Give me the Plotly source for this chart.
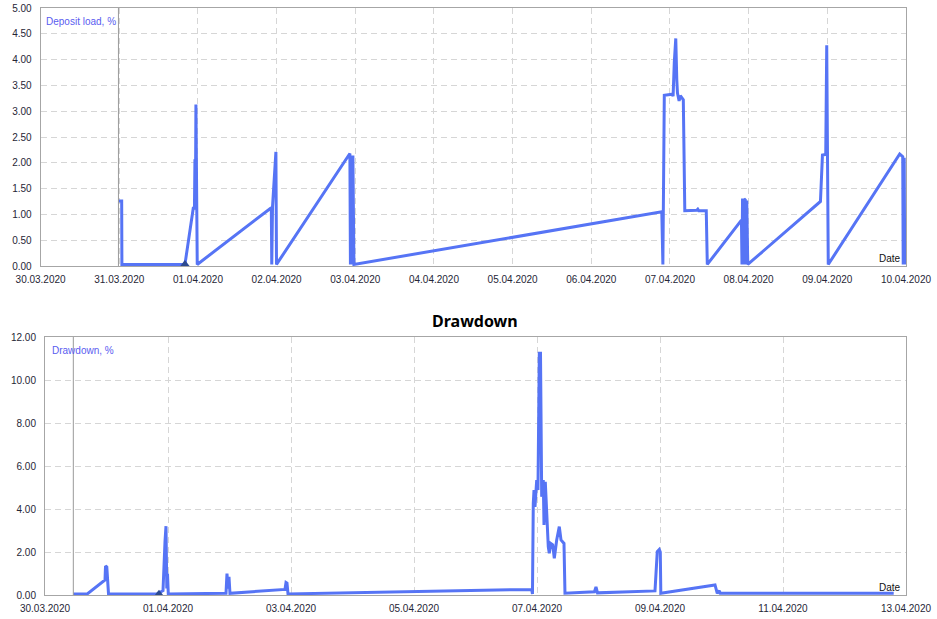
import plotly.graph_objects as go

# ---------------- data ----------------
load_time = [
    "2020-03-30 23:45", "2020-03-31 00:44", "2020-03-31 00:48", "2020-03-31 20:02",
    "2020-03-31 22:34", "2020-03-31 22:56", "2020-03-31 23:05", "2020-03-31 23:14",
    "2020-03-31 23:23", "2020-03-31 23:47", "2020-04-01 22:23", "2020-04-01 22:31",
    "2020-04-01 22:45", "2020-04-01 23:35", "2020-04-01 23:47", "2020-04-01 23:58",
    "2020-04-02 22:08", "2020-04-02 22:21", "2020-04-02 22:31", "2020-04-02 22:49",
    "2020-04-02 23:07", "2020-04-02 23:16", "2020-04-02 23:35", "2020-04-06 21:30",
    "2020-04-06 21:50", "2020-04-06 22:16", "2020-04-07 00:42", "2020-04-07 00:57",
    "2020-04-07 01:19", "2020-04-07 01:46", "2020-04-07 02:05", "2020-04-07 02:17",
    "2020-04-07 02:47", "2020-04-07 03:09", "2020-04-07 04:04", "2020-04-07 04:31",
    "2020-04-07 08:11", "2020-04-07 08:29", "2020-04-07 08:47", "2020-04-07 11:04",
    "2020-04-07 11:23", "2020-04-07 21:48", "2020-04-07 21:58", "2020-04-07 22:08",
    "2020-04-07 22:21", "2020-04-07 22:36", "2020-04-07 22:58", "2020-04-07 23:16",
    "2020-04-07 23:25", "2020-04-07 23:44", "2020-04-08 21:54", "2020-04-08 22:31",
    "2020-04-08 23:31", "2020-04-08 23:49", "2020-04-09 00:17", "2020-04-09 22:05",
    "2020-04-09 23:00", "2020-04-09 23:09", "2020-04-09 23:27", "2020-04-09 23:36",
]
load_value = [
    1.26, 1.26, 0.03, 0.03,
    1.12, 1.12, 2.07, 1.20,
    3.13, 0.03, 1.13, 0.03,
    1.15, 2.21, 2.21, 0.03,
    2.18, 2.18, 0.03, 2.14,
    0.03, 2.14, 0.03, 1.05,
    0.03, 3.31, 3.33, 3.29,
    3.95, 4.41, 3.60, 3.35,
    3.20, 3.30, 3.22, 1.07,
    1.08, 1.10, 1.07, 1.07,
    0.03, 0.89, 0.03, 1.31,
    0.03, 1.30, 1.28, 0.03,
    1.27, 0.03, 1.25, 2.15,
    2.16, 4.28, 0.03, 2.17,
    2.12, 0.03, 2.10, 0.03,
]

dd_time = [
    "2020-03-30 11:03", "2020-03-30 16:30", "2020-03-30 23:25", "2020-03-30 23:37",
    "2020-03-31 00:07", "2020-03-31 00:47", "2020-03-31 19:42", "2020-03-31 20:53",
    "2020-03-31 22:03", "2020-03-31 22:50", "2020-03-31 23:13", "2020-03-31 23:32",
    "2020-03-31 23:48", "2020-04-01 00:07", "2020-04-01 22:38", "2020-04-01 23:01",
    "2020-04-01 23:25", "2020-04-01 23:48", "2020-04-02 00:11", "2020-04-02 21:39",
    "2020-04-02 22:03", "2020-04-02 22:26", "2020-04-02 22:50", "2020-04-06 21:56",
    "2020-04-06 22:14", "2020-04-06 22:33", "2020-04-06 22:50", "2020-04-06 23:13",
    "2020-04-06 23:53", "2020-04-07 00:23", "2020-04-07 00:54", "2020-04-07 01:22",
    "2020-04-07 01:50", "2020-04-07 02:27", "2020-04-07 02:44", "2020-04-07 03:14",
    "2020-04-07 03:47", "2020-04-07 04:24", "2020-04-07 04:48", "2020-04-07 05:21",
    "2020-04-07 06:07", "2020-04-07 06:45", "2020-04-07 07:41", "2020-04-07 08:42",
    "2020-04-07 09:22", "2020-04-07 10:02", "2020-04-07 10:32", "2020-04-07 10:55",
    "2020-04-07 22:26", "2020-04-07 23:01", "2020-04-07 23:37", "2020-04-08 22:03",
    "2020-04-08 22:56", "2020-04-08 23:43", "2020-04-09 00:07", "2020-04-09 00:19",
    "2020-04-09 21:28", "2020-04-09 22:21", "2020-04-09 23:08", "2020-04-09 23:32",
    "2020-04-12 19:12",
]
dd_value = [
    0.05, 0.05, 0.70, 1.35,
    1.30, 0.05, 0.05, 0.12,
    0.20, 2.50, 3.20, 0.30,
    1.00, 0.05, 0.08, 1.00,
    0.30, 0.85, 0.08, 0.26,
    0.58, 0.55, 0.05, 0.26,
    0.05, 4.26, 4.88, 4.10,
    5.35, 4.88, 11.24, 11.24,
    4.57, 5.35, 3.26, 5.27,
    3.80, 2.25, 1.94, 2.40,
    2.33, 1.71, 2.56, 3.18,
    2.56, 2.48, 2.40, 0.08,
    0.15, 0.38, 0.10, 0.19,
    2.02, 2.12, 2.00, 0.08,
    0.47, 0.08, 0.20, 0.08,
    0.08,
]

# small trade markers (dark triangles at the bottom)
load_mark_time = ["2020-03-31 20:02"]
load_mark_value = [0.04]
dd_mark_time = ["2020-03-31 20:29"]
dd_mark_value = [0.06]

load_ticks = ["2020-03-30", "2020-03-31", "2020-04-01", "2020-04-02", "2020-04-03",
              "2020-04-04", "2020-04-05", "2020-04-06", "2020-04-07", "2020-04-08",
              "2020-04-09", "2020-04-10"]
load_tick_text = ["30.03.2020", "31.03.2020", "01.04.2020", "02.04.2020", "03.04.2020",
                  "04.04.2020", "05.04.2020", "06.04.2020", "07.04.2020", "08.04.2020",
                  "09.04.2020", "10.04.2020"]
dd_ticks = ["2020-03-30", "2020-04-01", "2020-04-03", "2020-04-05", "2020-04-07",
            "2020-04-09", "2020-04-11", "2020-04-13"]
dd_tick_text = ["30.03.2020", "01.04.2020", "03.04.2020", "05.04.2020", "07.04.2020",
                "09.04.2020", "11.04.2020", "13.04.2020"]
load_yticks = [0, 0.5, 1, 1.5, 2, 2.5, 3, 3.5, 4, 4.5, 5]
dd_yticks = [0, 2, 4, 6, 8, 10, 12]

# ---------------- style ----------------
W, H = 937, 619
LINE = "#5674F5"
GRID = "#d6d6d6"
FRAME = "#a6a6a6"
TICKC = "#262636"
FONT = "Liberation Sans"

fig = go.Figure()
fig.add_trace(go.Scatter(x=load_time, y=load_value, mode="lines",
                         line=dict(color=LINE, width=3), xaxis="x", yaxis="y",
                         showlegend=False))
fig.add_trace(go.Scatter(x=load_mark_time, y=load_mark_value, mode="markers",
                         marker=dict(symbol="triangle-up", size=8, color="#2c4a90"),
                         xaxis="x", yaxis="y", showlegend=False))
fig.add_trace(go.Scatter(x=dd_time, y=dd_value, mode="lines",
                         line=dict(color=LINE, width=3), xaxis="x2", yaxis="y2",
                         showlegend=False))
fig.add_trace(go.Scatter(x=dd_mark_time, y=dd_mark_value, mode="markers",
                         marker=dict(symbol="triangle-up", size=8, color="#2c4a90"),
                         xaxis="x2", yaxis="y2", showlegend=False))

common_x = dict(type="date", showgrid=True, gridcolor=GRID, griddash="6px,4px",
                gridwidth=1, showline=True, mirror=True, linecolor=FRAME, linewidth=1,
                ticks="", zeroline=False, automargin=False, fixedrange=True,
                tickfont=dict(family=FONT, size=10, color=TICKC), ticklabelstandoff=4)
common_y = dict(showgrid=True, gridcolor=GRID, griddash="6px,4px", gridwidth=1,
                showline=True, mirror=True, linecolor=FRAME, linewidth=1,
                ticks="", zeroline=False, automargin=False, fixedrange=True,
                tickformat=".2f", tickfont=dict(family=FONT, size=10, color=TICKC),
                ticklabelstandoff=6)

x1d = [40.6 / W, 906 / W]
y1d = [1 - 266 / H, 1 - 8 / H]
x2d = [45 / W, 906 / W]
y2d = [1 - 595 / H, 1 - 337 / H]

fig.update_layout(
    width=W, height=H, margin=dict(l=0, r=0, t=0, b=0),
    paper_bgcolor="white", plot_bgcolor="white", template="none",
    xaxis=dict(common_x, domain=x1d, range=["2020-03-30", "2020-04-10"],
               tickvals=load_ticks, ticktext=load_tick_text, anchor="y"),
    yaxis=dict(common_y, domain=y1d, range=[0, 5], tickvals=load_yticks, anchor="x"),
    xaxis2=dict(common_x, domain=x2d, range=["2020-03-30", "2020-04-13"],
                tickvals=dd_ticks, ticktext=dd_tick_text, anchor="y2"),
    yaxis2=dict(common_y, domain=y2d, range=[0, 12], tickvals=dd_yticks, anchor="x2"),
    shapes=[
        dict(type="line", xref="x", yref="y domain", x0=load_time[0], x1=load_time[0],
             y0=0, y1=1, line=dict(color="#9a9a9a", width=1)),
        dict(type="line", xref="x2", yref="y2 domain", x0=dd_time[0], x1=dd_time[0],
             y0=0, y1=1, line=dict(color="#9a9a9a", width=1)),
    ],
    annotations=[
        dict(text="Deposit load, %", xref="x domain", yref="y domain", x=0.004, y=0.975,
             xanchor="left", yanchor="top", showarrow=False,
             font=dict(family=FONT, size=10, color="#5a5cf0")),
        dict(text="Date", xref="x domain", yref="y domain", x=0.997, y=0.0,
             xanchor="right", yanchor="bottom", showarrow=False,
             font=dict(family=FONT, size=10, color="#111111")),
        dict(text="Drawdown, %", xref="x2 domain", yref="y2 domain", x=0.006, y=0.975,
             xanchor="left", yanchor="top", showarrow=False,
             font=dict(family=FONT, size=10, color="#5a5cf0")),
        dict(text="Date", xref="x2 domain", yref="y2 domain", x=0.997, y=0.0,
             xanchor="right", yanchor="bottom", showarrow=False,
             font=dict(family=FONT, size=10, color="#111111")),
        dict(text="<b>Drawdown</b>", xref="paper", yref="paper", x=475 / W, y=1 - 321 / H,
             xanchor="center", yanchor="middle", showarrow=False,
             font=dict(family="Noto Sans", size=16, color="#000000")),
    ],
)

fig.write_html("out.html")
